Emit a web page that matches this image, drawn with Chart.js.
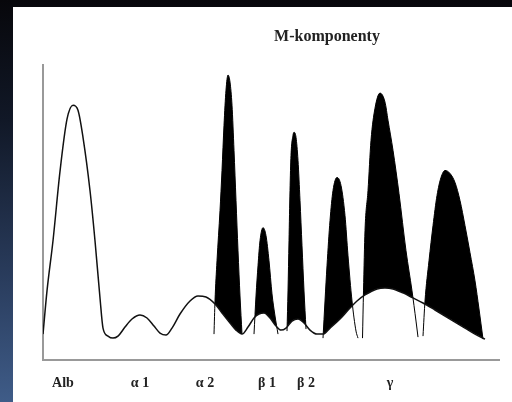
<!DOCTYPE html>
<html>
<head>
<meta charset="utf-8">
<script src="https://cdn.jsdelivr.net/npm/chart.js@4"></script>
<style>
  html, body { margin: 0; padding: 0; }
  body {
    width: 512px; height: 402px; overflow: hidden; position: relative;
    background: linear-gradient(to bottom, #07070b 0%, #111827 30%, #2a3d5e 70%, #3f5c88 100%);
  }
  #panel {
    position: absolute; left: 13px; top: 7px; width: 499px; height: 395px;
    background: #fff; overflow: hidden;
  }
</style>
</head>
<body>
<div id="panel"><canvas id="chart" width="499" height="412"></canvas></div>
<script>
// fraktionerna på x-axeln
const tickPos = [20, 97, 162, 224, 263, 347];
const tickLabels = ["Alb", "α 1", "α 2", "β 1", "β 2", "γ"];

// grundkurvan (elektroforesprofil)
const curveX = [0, 4, 10, 17, 24, 30, 35, 40, 47, 52, 57, 60, 65, 70, 75, 82, 89, 97, 104, 111, 117, 123, 129, 137, 147, 155, 163, 172, 179, 187, 193, 199, 205, 211, 216, 221, 227, 233, 238, 243, 249, 255, 261, 267, 274, 280, 287, 297, 307, 314, 322, 334, 342, 350, 360, 370, 380, 392, 407, 422, 432, 442];
const curveY = [26, 69, 119, 188, 240, 254, 249, 222, 169, 119, 62, 32, 24, 22, 24, 33, 41, 45, 42, 34, 27, 25, 32, 46, 59, 64, 63, 56, 47, 37, 30, 26, 33, 42, 46, 47, 42, 34, 30, 32, 39, 41, 37, 30, 26, 26, 32, 41, 52, 59, 65, 71, 72, 71, 67, 62, 57, 50, 41, 32, 26, 21];

// M-komponenter
const peak1X = [171, 172, 174, 177, 179, 181, 183, 185, 187, 189, 191, 193, 195, 197, 199];
const peak1Y = [26, 59, 99, 149, 189, 234, 269, 284, 277, 254, 209, 159, 109, 64, 26];
const peak2X = [211, 213, 215, 217, 220, 223, 226, 229, 232, 235];
const peak2Y = [26, 64, 94, 119, 132, 124, 99, 66, 44, 26];
const peak3X = [244, 245, 246, 247, 248, 250, 251, 253, 255, 257, 259, 261, 263];
const peak3Y = [29, 69, 119, 169, 204, 224, 227, 222, 199, 159, 114, 69, 31];
const peak4X = [280, 282, 284, 287, 290, 294, 298, 302, 305, 309, 313, 315];
const peak4Y = [22, 59, 94, 139, 169, 182, 174, 144, 104, 59, 29, 22];
const peak5X = [319.5, 320.5, 322, 325, 328, 332, 337, 342, 345, 350, 356, 363, 369, 373, 375];
const peak5Y = [22, 69, 129, 169, 219, 251, 266, 257, 239, 209, 166, 109, 69, 39, 23];
const peak6X = [380, 382, 386, 390, 394, 398, 402, 407, 412, 417, 422, 427, 432, 436, 440];
const peak6Y = [24, 59, 99, 134, 164, 182, 189, 186, 177, 159, 134, 107, 79, 51, 21];

const toPoints = (xs, ys) => xs.map((x, i) => ({ x: x, y: ys[i] }));

const peaks = [
    [peak1X, peak1Y], [peak2X, peak2Y], [peak3X, peak3Y],
    [peak4X, peak4Y], [peak5X, peak5Y], [peak6X, peak6Y],
];

const datasets = [
    {
        data: toPoints(curveX, curveY),
        borderColor: "#111",
        borderWidth: 1.5,
        pointRadius: 0,
        cubicInterpolationMode: "monotone",
        fill: false,
    },
];
peaks.forEach(([xs, ys]) => {
    datasets.push({
        data: toPoints(xs, ys),
        borderColor: "#000",
        borderWidth: 1,
        pointRadius: 0,
        cubicInterpolationMode: "monotone",
        fill: { target: 0, above: "#000", below: "rgba(0,0,0,0)" },
    });
});

const titlePlugin = {
    id: "titleText",
    afterDraw(chart) {
        const ctx = chart.ctx;
        ctx.save();
        ctx.font = "bold 16px 'Liberation Serif', 'Times New Roman', serif";
        ctx.fillStyle = "#222";
        ctx.textAlign = "center";
        ctx.textBaseline = "middle";
        ctx.fillText("M-komponenty", 314, 30);
        ctx.restore();
    },
};

new Chart(document.getElementById("chart"), {
    type: "line",
    data: { datasets: datasets },
    plugins: [titlePlugin],
    options: {
        responsive: false,
        animation: false,
        layout: { padding: { left: 30, right: 13, top: 58, bottom: 12 } },
        plugins: { legend: { display: false }, tooltip: { enabled: false } },
        scales: {
            x: {
                type: "linear",
                min: 0,
                max: 456,
                afterBuildTicks: (axis) => {
                    axis.ticks = tickPos.map((v) => ({ value: v }));
                },
                ticks: {
                    autoSkip: false,
                    maxRotation: 0,
                    padding: 15,
                    color: "#222",
                    font: { family: "'Liberation Serif', serif", size: 14, weight: "bold" },
                    callback: (value, index) => tickLabels[index],
                },
                grid: { drawOnChartArea: false, drawTicks: false },
                border: { color: "#999", width: 2 },
            },
            y: {
                min: 0,
                max: 294,
                ticks: { display: false },
                grid: { drawOnChartArea: false, drawTicks: false },
                border: { color: "#999", width: 2 },
            },
        },
    },
});
</script>
</body>
</html>
